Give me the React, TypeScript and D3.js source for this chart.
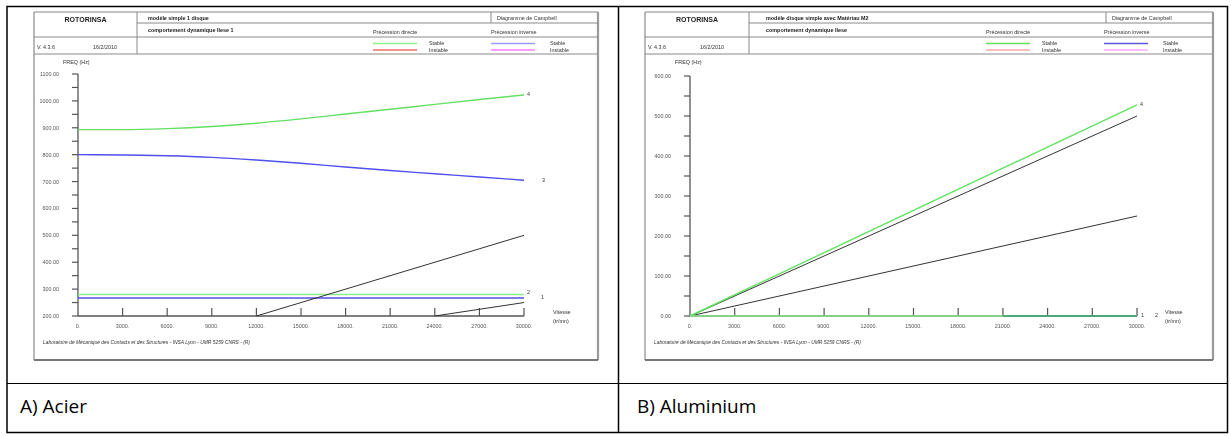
import React from "react";
import * as d3 from "d3";

// Rotation speed grid (tr/mn) shared by both Campbell diagrams
const speeds = [0, 3000, 6000, 9000, 12000, 15000, 18000, 21000, 24000, 27000, 30000];
const speedTickLabels = ["0.", "3000.", "6000.", "9000.", "12000.", "15000.", "18000.", "21000.", "24000.", "27000.", "30000."];

// A) steel disc: natural frequencies (Hz) versus speed
const acierMode4 = [893, 893, 897, 905, 917, 933, 951, 969, 987, 1005, 1022];
const acierMode3 = [800, 799, 796, 790, 780, 768, 754, 741, 729, 717, 705];
const acierMode2 = [280, 280];
const acierMode1 = [267, 267];
const acierOrder1 = [[12000, 200], [30000, 500]];
const acierOrderHalf = [[24000, 200], [30000, 250]];
const acierFreqTicks = [200, 300, 400, 500, 600, 700, 800, 900, 1000, 1100];

// B) aluminium disc
const aluMode4 = [[0, 0], [30000, 528]];
const aluOrder1 = [[0, 0], [30000, 500]];
const aluOrderHalf = [[0, 0], [30000, 250]];
const aluModeZeroDirect = [[0, 0], [30000, 0]];
const aluModeZeroInverse = [[21000, 0], [30000, 0]];
const aluFreqTicks = [0, 100, 200, 300, 400, 500, 600];

const SMALL = "'Liberation Sans', Arial, sans-serif";

type Panel = {
  fx0: number; fx1: number; fy0: number; fy1: number;
  logoRight: number; diagLeft: number; directX: number; inverseX: number;
  titleDx: number; dateDx: number;
  xRange: [number, number]; yRange: [number, number]; yDomain: [number, number];
  yTicks: number[];
  title1: string; title2: string;
  legend: { stableD: string; unstableD: string; stableI: string; unstableI: string };
  caption: string; captionX: number;
};

const panelA: Panel = {
  fx0: 34, fx1: 598, fy0: 12, fy1: 360,
  logoRight: 137, diagLeft: 491, directX: 373, inverseX: 491,
  titleDx: 11, dateDx: 59,
  xRange: [78, 524], yRange: [316, 74], yDomain: [200, 1100],
  yTicks: acierFreqTicks,
  title1: "modèle simple 1 disque",
  title2: "comportement dynamique Ilese 1",
  legend: { stableD: "#8fee8f", unstableD: "#f06a6a", stableI: "#9a9aff", unstableI: "#ff80ff" },
  caption: "A) Acier", captionX: 20,
};

const panelB: Panel = {
  fx0: 645, fx1: 1213, fy0: 12, fy1: 360,
  logoRight: 749, diagLeft: 1106, directX: 986, inverseX: 1104,
  titleDx: 17, dateDx: 55,
  xRange: [690, 1137], yRange: [316, 76], yDomain: [0, 600],
  yTicks: aluFreqTicks,
  title1: "modèle disque simple avec Matériau M2",
  title2: "comportement dynamique Ilese",
  legend: { stableD: "#66dd66", unstableD: "#ffa8a8", stableI: "#5a5ae0", unstableI: "#ffa8ff" },
  caption: "B) Aluminium", captionX: 637,
};

function Txt(props: any) {
  const { children, ...rest } = props;
  return (
    <text fontFamily={SMALL} fontSize={5.4} fill="#333" {...rest}>
      {children}
    </text>
  );
}

function Header({ p }: { p: Panel }) {
  const frameStroke = "#8a8a8a";
  return (
    <g>
      {/* header grid */}
      <line x1={p.fx0} x2={p.fx1} y1={12} y2={12} stroke={frameStroke} strokeWidth={1.2} />
      <line x1={p.logoRight} x2={p.fx1} y1={23} y2={23} stroke={frameStroke} strokeWidth={1} />
      <line x1={p.fx0} x2={p.fx1} y1={37} y2={37} stroke={frameStroke} strokeWidth={1} />
      <line x1={p.fx0} x2={p.fx1} y1={54} y2={54} stroke={frameStroke} strokeWidth={1.2} />
      <line x1={p.logoRight} x2={p.logoRight} y1={12} y2={54} stroke={frameStroke} strokeWidth={1} />
      <line x1={p.diagLeft} x2={p.diagLeft} y1={12} y2={23} stroke={frameStroke} strokeWidth={1} />

      <Txt x={(p.fx0 + p.logoRight) / 2} y={22} textAnchor="middle" fontSize={7} fontWeight="bold" fill="#222">ROTORINSA</Txt>
      <Txt x={p.fx0 + 3} y={48.5}>V. 4.3.6</Txt>
      <Txt x={p.fx0 + p.dateDx} y={48.5}>16/2/2010</Txt>
      <Txt x={p.logoRight + p.titleDx} y={19.5} fontWeight="bold" fill="#222">{p.title1}</Txt>
      <Txt x={p.logoRight + p.titleDx} y={32} fontWeight="bold" fill="#222">{p.title2}</Txt>
      <Txt x={p.diagLeft + 6} y={19.5}>Diagramme de Campbell</Txt>

      <Txt x={p.directX} y={34}>Précession directe</Txt>
      <Txt x={p.inverseX} y={34}>Précession inverse</Txt>

      <line x1={p.directX} x2={p.directX + 44} y1={43.5} y2={43.5} stroke={p.legend.stableD} strokeWidth={1.6} />
      <line x1={p.directX} x2={p.directX + 44} y1={50} y2={50} stroke={p.legend.unstableD} strokeWidth={1.6} />
      <line x1={p.inverseX} x2={p.inverseX + 44} y1={43.5} y2={43.5} stroke={p.legend.stableI} strokeWidth={1.6} />
      <line x1={p.inverseX} x2={p.inverseX + 44} y1={50} y2={50} stroke={p.legend.unstableI} strokeWidth={1.6} />
      <Txt x={p.directX + 56} y={44.5}>Stable</Txt>
      <Txt x={p.directX + 56} y={51.5}>Instable</Txt>
      <Txt x={p.inverseX + 59} y={44.5}>Stable</Txt>
      <Txt x={p.inverseX + 59} y={51.5}>Instable</Txt>
    </g>
  );
}

function Axes({ p, x, y, fmt }: { p: Panel; x: d3.ScaleLinear<number, number>; y: d3.ScaleLinear<number, number>; fmt: (v: number) => string }) {
  const x0 = x(0);
  const yBase = y(p.yDomain[0]);
  const minor = d3.range(p.yDomain[0] + 50, p.yDomain[1], 100);
  return (
    <g>
      <Txt x={x0 - 15} y={64}>FREQ (Hz)</Txt>
      <line x1={x0} x2={x0} y1={y(p.yDomain[1])} y2={yBase} stroke="#555" strokeWidth={1.3} />
      {p.yTicks.map((t) => (
        <g key={t}>
          <line x1={x0 - 6} x2={x0} y1={y(t)} y2={y(t)} stroke="#555" strokeWidth={1.2} />
          <Txt x={x0 - 19} y={y(t) + 2} textAnchor="end" fill="#555">{fmt(t)}</Txt>
        </g>
      ))}
      {minor.map((t) => (
        <line key={t} x1={x0 - 6} x2={x0} y1={y(t)} y2={y(t)} stroke="#555" strokeWidth={1.2} />
      ))}
      <line x1={x0} x2={x(30000)} y1={yBase} y2={yBase} stroke="#555" strokeWidth={1.3} />
      {speeds.map((s, i) => (
        <g key={s}>
          {i > 0 && <line x1={x(s)} x2={x(s)} y1={yBase - 8} y2={yBase} stroke="#555" strokeWidth={1.2} />}
          <Txt x={x(s)} y={yBase + 12} textAnchor="middle" fill="#555">{speedTickLabels[i]}</Txt>
        </g>
      ))}
      <Txt x={x0 + 475} y={yBase - 2}>Vitesse</Txt>
      <Txt x={x0 + 475} y={yBase + 7}>(tr/mn)</Txt>
      <Txt x={p.fx0 + 9} y={344} fontStyle="italic" textLength={207} lengthAdjust="spacingAndGlyphs">
        Laboratoire de Mécanique des Contacts et des Structures - INSA Lyon - UMR 5259 CNRS - (R)
      </Txt>
    </g>
  );
}

function Frame({ p }: { p: Panel }) {
  return (
    <g>
      <line x1={p.fx0} x2={p.fx0} y1={p.fy0} y2={p.fy1} stroke="#8a8a8a" strokeWidth={1.2} />
      <line x1={p.fx1} x2={p.fx1} y1={p.fy0} y2={p.fy1} stroke="#9a9a9a" strokeWidth={2.2} />
      <line x1={p.fx0} x2={p.fx1} y1={p.fy1} y2={p.fy1} stroke="#777" strokeWidth={1.8} />
    </g>
  );
}

function PanelA() {
  const p = panelA;
  const x = d3.scaleLinear().domain([0, 30000]).range(p.xRange);
  const y = d3.scaleLinear().domain(p.yDomain).range(p.yRange);
  const smooth = d3.line<number>().x((_, i) => x(speeds[i])).y((v) => y(v)).curve(d3.curveMonotoneX);
  const seg = d3.line<number[]>().x((d) => x(d[0])).y((d) => y(d[1]));
  const flat = (vals: number[]) => seg([[0, vals[0]], [30000, vals[1]]]) as string;
  const green = "#62e062";
  const blue = "#4f4ff0";
  return (
    <g>
      <Frame p={p} />
      <Header p={p} />
      <Axes p={p} x={x} y={y} fmt={(v) => d3.format(".2f")(v)} />
      <path d={flat(acierMode2)} stroke="#8cec8c" strokeWidth={1.6} fill="none" />
      <path d={flat(acierMode1)} stroke={blue} strokeWidth={1.4} fill="none" />
      <path d={seg(acierOrder1) as string} stroke="#333" strokeWidth={1} fill="none" />
      <path d={seg(acierOrderHalf) as string} stroke="#333" strokeWidth={1} fill="none" />
      <path d={smooth(acierMode4) as string} stroke={green} strokeWidth={1.4} fill="none" />
      <path d={smooth(acierMode3) as string} stroke={blue} strokeWidth={1.4} fill="none" />
      <Txt x={x(30000) + 3} y={y(acierMode4[10]) + 1}>4</Txt>
      <Txt x={x(30000) + 18} y={y(acierMode3[10]) + 2}>3</Txt>
      <Txt x={x(30000) + 3} y={y(acierMode2[1]) + 0}>2</Txt>
      <Txt x={x(30000) + 17} y={y(acierMode1[1]) + 1}>1</Txt>
    </g>
  );
}

function PanelB() {
  const p = panelB;
  const x = d3.scaleLinear().domain([0, 30000]).range(p.xRange);
  const y = d3.scaleLinear().domain(p.yDomain).range(p.yRange);
  const seg = d3.line<number[]>().x((d) => x(d[0])).y((d) => y(d[1]));
  return (
    <g>
      <Frame p={p} />
      <Header p={p} />
      <Axes p={p} x={x} y={y} fmt={(v) => d3.format(".2f")(v)} />
      <path d={seg(aluOrderHalf) as string} stroke="#333" strokeWidth={1} fill="none" />
      <path d={seg(aluOrder1) as string} stroke="#333" strokeWidth={1} fill="none" />
      <path d={seg(aluMode4) as string} stroke="#5fe35f" strokeWidth={1.4} fill="none" />
      <path d={seg(aluModeZeroDirect) as string} stroke="#8cec8c" strokeWidth={1.6} fill="none" />
      <path d={seg(aluModeZeroInverse) as string} stroke="#3c9a70" strokeWidth={1.6} fill="none" />
      <Txt x={x(30000) + 3} y={y(aluMode4[1][1]) + 1}>4</Txt>
      <Txt x={x(30000) + 4} y={y(0) + 1}>1</Txt>
      <Txt x={x(30000) + 18} y={y(0) + 1}>2</Txt>
    </g>
  );
}

export default function App() {
  return (
    <svg
      width={1231}
      height={436}
      viewBox="0 0 1231 436"
      style={{ position: "absolute", left: 0, top: 0, background: "#fff" }}
    >
      <defs>
        <filter id="soft" x="-5%" y="-5%" width="110%" height="110%">
          <feGaussianBlur stdDeviation={0.35} />
        </filter>
      </defs>
      <rect width={1231} height={436} fill="#fff" />
      <g filter="url(#soft)">
        <PanelA />
        <PanelB />
      </g>
      {/* document table around the two figures */}
      <rect x={7} y={6.5} width={1220.5} height={426} fill="none" stroke="#000" strokeWidth={1.5} />
      <line x1={618.5} x2={618.5} y1={6.5} y2={432.5} stroke="#000" strokeWidth={1.5} />
      <line x1={7} x2={1227.5} y1={383.5} y2={383.5} stroke="#000" strokeWidth={1} />
      <text x={panelA.captionX} y={413} fontFamily="'Open Sans', 'Liberation Sans', sans-serif" fontSize={19} fill="#000">{panelA.caption}</text>
      <text x={panelB.captionX} y={413} fontFamily="'Open Sans', 'Liberation Sans', sans-serif" fontSize={19} fill="#000">{panelB.caption}</text>
    </svg>
  );
}
